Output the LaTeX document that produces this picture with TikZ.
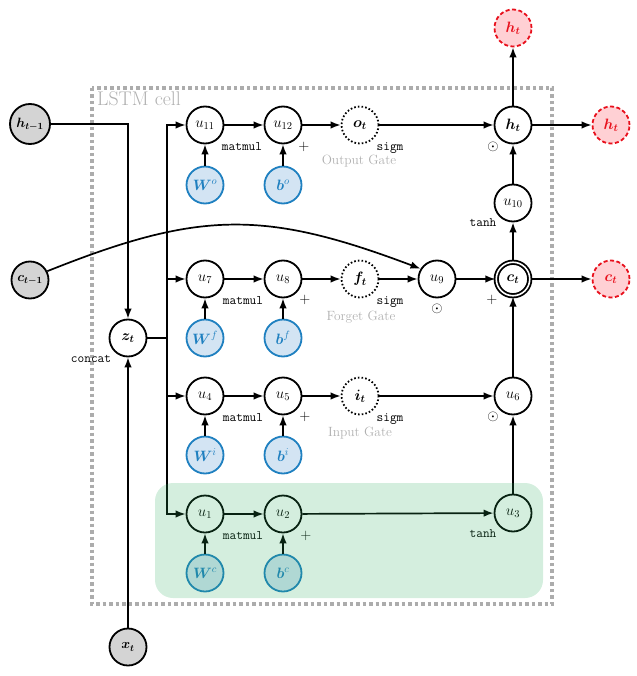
\RequirePackage{fix-cm}
\documentclass[tikz,border=0pt]{standalone}
\usepackage{amsmath,bm}
\usetikzlibrary{arrows.meta}
\definecolor{pblue}{RGB}{31,128,192}
\definecolor{pfill}{RGB}{211,228,243}
\definecolor{infill}{RGB}{212,212,212}
\definecolor{ored}{RGB}{232,16,28}
\definecolor{ofill}{RGB}{255,208,212}
\definecolor{lgray}{RGB}{176,176,176}
\definecolor{boxgray}{RGB}{172,172,172}
\definecolor{greenov}{RGB}{40,170,90}
\tikzset{
  base/.style={circle, minimum size=37pt, inner sep=1pt, line width=1.8pt, font=\fontsize{15}{17}\selectfont},
  op/.style={base, draw=black, fill=white},
  gatenode/.style={base, draw=black, dash pattern=on 1.6pt off 2.1pt, fill=white},
  param/.style={base, draw=pblue, fill=pfill, text=pblue},
  inp/.style={base, draw=black, fill=infill, font=\fontsize{13.5}{15}\selectfont},
  outp/.style={base, draw=ored, fill=ofill, dash pattern=on 4pt off 2.5pt, text=ored},
  cellnode/.style={base, draw=black, fill=white, double, double distance=1.6pt, minimum size=33.5pt},
  arr/.style={line width=1.7pt, -{Latex[length=10pt,width=7.5pt]}},
  ln/.style={line width=1.7pt},
  optxt/.style={font=\ttfamily\fontsize{13}{15}\selectfont, anchor=base, inner sep=0pt},
  sym/.style={font=\fontsize{14.5}{16}\selectfont, inner sep=0pt},
  gatetxt/.style={text=lgray, font=\fontsize{13.4}{15}\selectfont, anchor=base, inner sep=0pt},
}
\begin{document}
\begin{tikzpicture}[x=1pt,y=-1pt]
\useasboundingbox (0,0) rectangle (636,676);
% LSTM cell frame
\draw[boxgray, line width=3.5pt, dash pattern=on 3.5pt off 3pt] (92,88) rectangle (552,604);
\node[text=lgray, font=\fontsize{19.8}{21}\selectfont, anchor=base west, inner sep=0pt] (lstm) at (97,106) {LSTM cell};

% inputs
\node[inp, minimum size=40pt] (hprev) at (30,124) {$\bm{h}_{\bm{t-1}}$};
\node[inp] (cprev) at (30,280) {$\bm{c}_{\bm{t-1}}$};
\node[inp] (x) at (128,647) {$\bm{x_t}$};
\node[op] (z) at (128,338) {$\bm{z_t}$};
\coordinate (tr) at (167,338);

% output gate row
\node[op] (u11) at (205,125) {$u_{11}$};
\node[op] (u12) at (283,125) {$u_{12}$};
\node[gatenode] (ot) at (360,125) {$\bm{o_t}$};
\node[op] (ht) at (513,125) {$\bm{h_t}$};
\node[param] (Wo) at (205,185) {$\bm{W}^{o}$};
\node[param] (bo) at (283,185) {$\bm{b}^{o}$};
\node[op] (u10) at (513,203) {$u_{10}$};

% forget gate row
\node[op] (u7) at (205,279) {$u_{7}$};
\node[op] (u8) at (283,279) {$u_{8}$};
\node[gatenode] (ft) at (360,279) {$\bm{f_t}$};
\node[op] (u9) at (437,279) {$u_{9}$};
\node[cellnode] (ct) at (513,279) {$\bm{c_t}$};
\node[param] (Wf) at (205,338) {$\bm{W}^{f}$};
\node[param] (bf) at (283,338) {$\bm{b}^{f}$};

% input gate row
\node[op] (u4) at (205,396) {$u_{4}$};
\node[op] (u5) at (283,396) {$u_{5}$};
\node[gatenode] (it) at (360,396) {$\bm{i_t}$};
\node[op] (u6) at (513,396) {$u_{6}$};
\node[param] (Wi) at (205,455) {$\bm{W}^{i}$};
\node[param] (bi) at (283,455) {$\bm{b}^{i}$};

% candidate row
\node[op] (u1) at (205,514) {$u_{1}$};
\node[op] (u2) at (283,514) {$u_{2}$};
\node[op] (u3) at (513,513) {$u_{3}$};
\node[param] (Wc) at (205,573) {$\bm{W}^{c}$};
\node[param] (bc) at (283,573) {$\bm{b}^{c}$};

% outputs
\node[outp] (hup) at (513,28) {$\bm{h_t}$};
\node[outp] (hright) at (611,125) {$\bm{h_t}$};
\node[outp] (cright) at (611,279) {$\bm{c_t}$};

% operation labels
\node[optxt] (l11) at (242,151) {matmul};
\node[optxt] (l7) at (243,304) {matmul};
\node[optxt] (l4) at (243,421) {matmul};
\node[optxt] (l1) at (243,539) {matmul};
\node[sym] (p12) at (304,147) {$+$};
\node[sym] (p8) at (305,300) {$+$};
\node[sym] (p5) at (305,417) {$+$};
\node[sym] (p2) at (306,536) {$+$};
\node[optxt] (so) at (390,151) {sigm};
\node[optxt] (sf) at (390,304) {sigm};
\node[optxt] (si) at (390,421) {sigm};
\node[gatetxt] (go) at (359,165) {Output Gate};
\node[gatetxt] (gf) at (361,320) {Forget Gate};
\node[gatetxt] (gi) at (360,436) {Input Gate};
\node[sym] (mh) at (493,147) {$\odot$};
\node[sym] (m9) at (437,309) {$\odot$};
\node[sym] (m6) at (493,417) {$\odot$};
\node[sym] (pc) at (492,300) {$+$};
\node[optxt] (t10) at (483,226) {tanh};
\node[optxt] (t3) at (483,537) {tanh};
\node[optxt] (cc) at (91,362) {concat};

% connectors
\draw[arr] (hprev) -| (z);
\draw[arr] (x) -- (z);
\draw[ln] (z) -- (tr);
\draw[arr] (tr) |- (u11);
\draw[arr] (tr) |- (u1);
\draw[arr] (tr |- u7) -- (u7);
\draw[arr] (tr |- u4) -- (u4);
\draw[arr] (cprev.27) .. controls (200,210) and (265,210) .. (u9.148);

\draw[arr] (u11) -- (u12);
\draw[arr] (u12) -- (ot);
\draw[arr] (ot) -- (ht);
\draw[arr] (Wo) -- (u11);
\draw[arr] (bo) -- (u12);
\draw[arr] (u10) -- (ht);
\draw[arr] (ct) -- (u10);
\draw[arr] (ht) -- (hup);
\draw[arr] (ht) -- (hright);

\draw[arr] (u7) -- (u8);
\draw[arr] (u8) -- (ft);
\draw[arr] (ft) -- (u9);
\draw[arr] (u9) -- (ct);
\draw[arr] (Wf) -- (u7);
\draw[arr] (bf) -- (u8);
\draw[arr] (ct) -- (cright);

\draw[arr] (u4) -- (u5);
\draw[arr] (u5) -- (it);
\draw[arr] (it) -- (u6);
\draw[arr] (Wi) -- (u4);
\draw[arr] (bi) -- (u5);
\draw[arr] (u6) -- (ct);

\draw[arr] (u1) -- (u2);
\draw[arr] (u2) -- (u3);
\draw[arr] (Wc) -- (u1);
\draw[arr] (bc) -- (u2);
\draw[arr] (u3) -- (u6);

% green highlight overlay
\fill[greenov, fill opacity=0.2, rounded corners=18pt] (155,483) rectangle (543,598);
\end{tikzpicture}
\end{document}
